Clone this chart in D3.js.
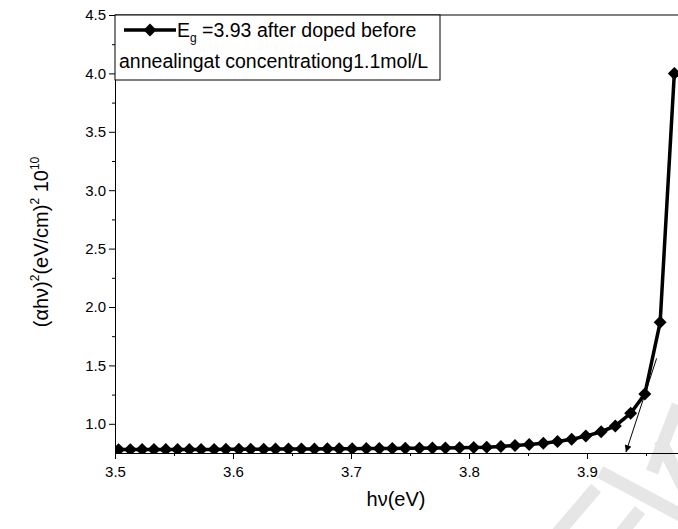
<!DOCTYPE html>
<html>
<head>
<meta charset="utf-8">
<script src="https://cdn.jsdelivr.net/npm/d3@7"></script>
<style>
  body { margin: 0; background: #fff; }
  svg { display: block; font-family: "Liberation Sans", Arial, sans-serif; }
</style>
</head>
<body>
<div id="chart"></div>
<script>
// photon energy (eV), 1 nm steps in wavelength
const hv = [3.503, 3.513, 3.523, 3.533, 3.543, 3.553, 3.563, 3.573, 3.584, 3.594,
  3.605, 3.615, 3.626, 3.636, 3.647, 3.658, 3.669, 3.680, 3.690, 3.701,
  3.713, 3.724, 3.735, 3.746, 3.758, 3.769, 3.780, 3.792, 3.804, 3.815,
  3.827, 3.839, 3.851, 3.863, 3.875, 3.887, 3.899, 3.912, 3.924, 3.937,
  3.949, 3.962, 3.974];
// (alpha h nu)^2 x 10^10
const ahv2 = [0.779, 0.779, 0.780, 0.780, 0.780, 0.780, 0.781, 0.781, 0.781, 0.782,
  0.782, 0.783, 0.783, 0.784, 0.784, 0.785, 0.785, 0.786, 0.786, 0.787,
  0.788, 0.788, 0.789, 0.790, 0.791, 0.792, 0.793, 0.795, 0.797, 0.800,
  0.806, 0.814, 0.823, 0.834, 0.849, 0.867, 0.895, 0.932, 0.982, 1.090,
  1.255, 1.870, 4.000];
const xTicks = [3.5, 3.6, 3.7, 3.8, 3.9];
const yTicks = [1.0, 1.5, 2.0, 2.5, 3.0, 3.5, 4.0, 4.5];
// tangent line used to read the band gap (from, to)
const tangent = [[3.959, 1.56], [3.933, 0.757]];
const legendText = ["=3.93 after doped before", "annealingat concentrationg1.1mol/L"];

const width = 678;
const height = 529;
const margin = { left: 115, top: 15 };
const plotW = 590; // plot runs past the right edge of the picture
const plotH = 438;
const font = "'Liberation Sans', Arial, sans-serif";

const svg = d3
  .select("#chart")
  .append("svg")
  .attr("width", width)
  .attr("height", height);

const x = d3.scaleLinear().domain([3.5, 4.0]).range([margin.left, margin.left + plotW]);
const y = d3.scaleLinear().domain([0.75, 4.5]).range([margin.top + plotH, margin.top]);

// faint watermark stripes
const wm = svg.append("g").attr("stroke", "#e6e6e6").attr("stroke-width", 13).attr("fill", "none");
wm.append("line").attr("x1", 600).attr("y1", 472).attr("x2", 690).attr("y2", 520);
wm.append("line").attr("x1", 660).attr("y1", 440).attr("x2", 690).attr("y2", 500);
wm.append("line").attr("x1", 678).attr("y1", 405).attr("x2", 652).attr("y2", 472);
wm.append("line").attr("x1", 596).attr("y1", 488).attr("x2", 556).attr("y2", 535);
wm.append("line").attr("x1", 640).attr("y1", 510).attr("x2", 620).attr("y2", 535);

svg.append("defs").append("clipPath").attr("id", "clip")
  .append("rect")
  .attr("x", margin.left)
  .attr("y", margin.top)
  .attr("width", plotW)
  .attr("height", plotH);

// x axis
svg.append("g")
  .attr("transform", `translate(0,${margin.top + plotH})`)
  .call(d3.axisBottom(x).tickValues(xTicks).tickFormat(d3.format(".1f")).tickSize(6).tickSizeOuter(0))
  .attr("font-family", font)
  .attr("font-size", 15)
  .call((g) => g.selectAll("text").attr("dy", "1.0em").attr("fill", "#000"));
svg.append("g")
  .attr("transform", `translate(0,${margin.top + plotH})`)
  .call(d3.axisBottom(x).tickValues(d3.range(3.55, 4.0, 0.1)).tickFormat("").tickSize(3).tickSizeOuter(0));

// y axis
svg.append("g")
  .attr("transform", `translate(${margin.left},0)`)
  .call(d3.axisLeft(y).tickValues(yTicks).tickFormat(d3.format(".1f")).tickSize(6).tickSizeOuter(0))
  .attr("font-family", font)
  .attr("font-size", 15)
  .call((g) => g.selectAll("text").attr("fill", "#000"));
svg.append("g")
  .attr("transform", `translate(${margin.left},0)`)
  .call(d3.axisLeft(y).tickValues(d3.range(1.25, 4.5, 0.5)).tickFormat("").tickSize(3).tickSizeOuter(0));

svg.selectAll(".domain").attr("stroke", "#000");
svg.selectAll(".tick line").attr("stroke", "#000");

// top frame
svg.append("line")
  .attr("x1", margin.left).attr("x2", margin.left + plotW)
  .attr("y1", margin.top).attr("y2", margin.top)
  .attr("stroke", "#000");

// tangent with arrow
svg.append("defs").append("marker")
  .attr("id", "arrow")
  .attr("viewBox", "0 0 10 10")
  .attr("refX", 10).attr("refY", 5)
  .attr("markerWidth", 9).attr("markerHeight", 7)
  .attr("markerUnits", "userSpaceOnUse")
  .attr("orient", "auto")
  .append("path").attr("d", "M0,0L10,5L0,10z").attr("fill", "#000");
svg.append("line")
  .attr("x1", x(tangent[0][0])).attr("y1", y(tangent[0][1]))
  .attr("x2", x(tangent[1][0])).attr("y2", y(tangent[1][1]))
  .attr("stroke", "#000").attr("stroke-width", 1)
  .attr("marker-end", "url(#arrow)");

const plot = svg.append("g").attr("clip-path", "url(#clip)");
const pts = hv.map((d, i) => [d, ahv2[i]]);

plot.append("path")
  .datum(pts)
  .attr("fill", "none")
  .attr("stroke", "#000")
  .attr("stroke-width", 3.5)
  .attr("d", d3.line().x((d) => x(d[0])).y((d) => y(d[1])));

const diamond = d3.symbol().type(d3.symbolSquare).size(84);
plot.selectAll(".pt")
  .data(pts)
  .enter()
  .append("path")
  .attr("class", "pt")
  .attr("d", diamond)
  .attr("transform", (d) => `translate(${x(d[0])},${y(d[1])}) rotate(45)`)
  .attr("fill", "#000");

// legend
const lg = svg.append("g");
lg.append("rect")
  .attr("x", margin.left).attr("y", margin.top)
  .attr("width", 325).attr("height", 65)
  .attr("fill", "#fff").attr("stroke", "#000");
lg.append("line")
  .attr("x1", 124).attr("x2", 176).attr("y1", 30).attr("y2", 30)
  .attr("stroke", "#000").attr("stroke-width", 3.5);
lg.append("path")
  .attr("d", diamond)
  .attr("transform", "translate(150,30) rotate(45)")
  .attr("fill", "#000");
const t1 = lg.append("text").attr("x", 177).attr("y", 37).attr("font-size", 19.5);
t1.append("tspan").text("E");
t1.append("tspan").attr("font-size", 12).attr("dy", 5).text("g");
t1.append("tspan").attr("dy", -5).text(" " + legendText[0]);
lg.append("text").attr("x", 119).attr("y", 68).attr("font-size", 19.5).text(legendText[1]);

// axis titles
svg.append("text")
  .attr("x", 396).attr("y", 506)
  .attr("text-anchor", "middle")
  .attr("font-size", 20)
  .text("h\u03bd(eV)");

const yt = svg.append("text")
  .attr("transform", "translate(48,242) rotate(-90)")
  .attr("text-anchor", "middle")
  .attr("font-size", 20);
yt.append("tspan").text("(\u03b1h\u03bd)");
yt.append("tspan").attr("font-size", 12).attr("dy", -9).text("2");
yt.append("tspan").attr("dy", 9).text("(eV/cm)");
yt.append("tspan").attr("font-size", 12).attr("dy", -9).text("2");
yt.append("tspan").attr("dy", 9).text(" 10");
yt.append("tspan").attr("font-size", 12).attr("dy", -9).text("10");
</script>
</body>
</html>
